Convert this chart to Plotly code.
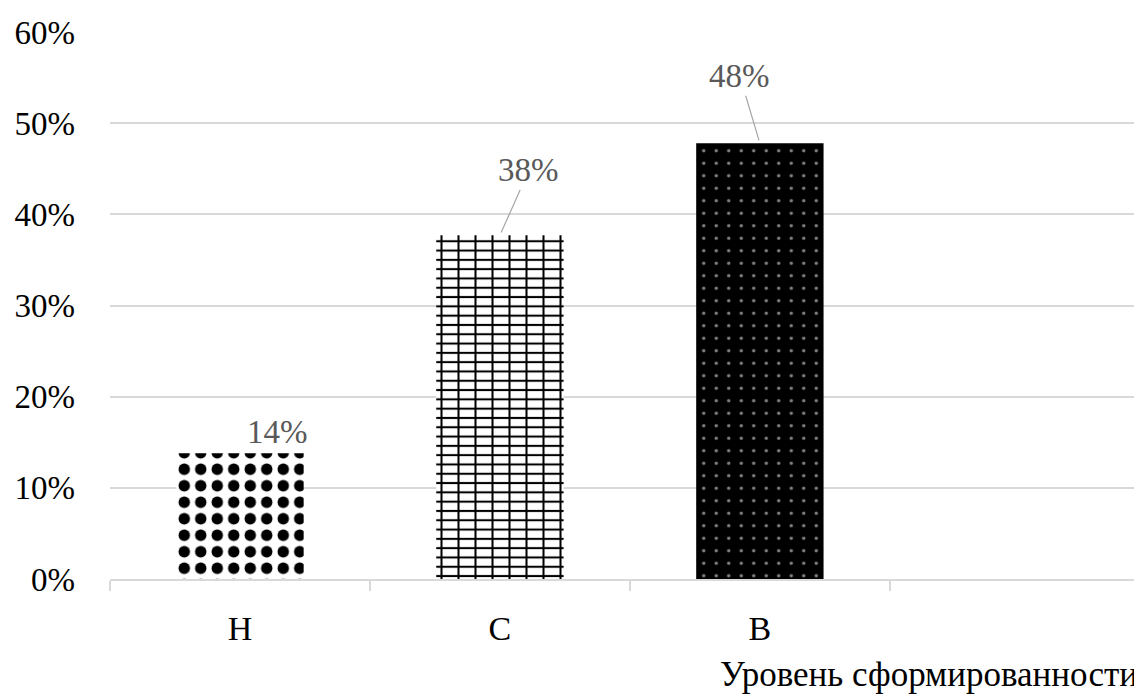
import plotly.graph_objects as go

categories = ["Н", "С", "В"]
values = [0.138, 0.377, 0.478]
y_ticks = [0, 0.1, 0.2, 0.3, 0.4, 0.5, 0.6]
axis_title = "Уровень сформированности"

FONT = "Times New Roman, Liberation Serif, Tinos, DejaVu Serif, serif"
GRID = "#d9d9d9"
BAR_W = 0.49

fig = go.Figure()

# "Н": black diamonds/dots on white
fig.add_trace(go.Bar(
    x=[categories[0]], y=[values[0]], width=BAR_W,
    marker=dict(color="black", line=dict(width=0),
                pattern=dict(shape=".", fgcolor="black", bgcolor="white",
                             size=16.5, solidity=0.38, fillmode="replace")),
    hoverinfo="skip", showlegend=False,
))

# "С": bricks = horizontal lines + vertical joints
fig.add_trace(go.Bar(
    x=[categories[1]], y=[values[1]], width=BAR_W,
    marker=dict(color="black", line=dict(width=0),
                pattern=dict(shape="-", fgcolor="black", bgcolor="white",
                             size=9.3, solidity=0.22, fillmode="replace")),
    hoverinfo="skip", showlegend=False,
))
fig.add_trace(go.Bar(
    x=[categories[1]], y=[values[1]], width=BAR_W,
    marker=dict(color="black", line=dict(width=0),
                pattern=dict(shape="|", fgcolor="black", bgcolor="rgba(0,0,0,0)",
                             size=17, solidity=0.12, fillmode="replace")),
    hoverinfo="skip", showlegend=False,
))

# "В": white dots on black
fig.add_trace(go.Bar(
    x=[categories[2]], y=[values[2]], width=BAR_W,
    marker=dict(color="black", line=dict(width=0),
                pattern=dict(shape=".", fgcolor="white", bgcolor="black",
                             size=12.5, solidity=0.06, fillmode="overlay")),
    hoverinfo="skip", showlegend=False,
))

# data labels
label_offsets = [(38, -21, False), (29, -65, True), (-20, -67, True)]
for cat, val, (dx, dy, arrow) in zip(categories, values, label_offsets):
    txt = f"{round(val * 100):d}%"
    if arrow:
        fig.add_annotation(
            x=cat, y=val, text=txt, showarrow=True, ax=dx, ay=dy,
            arrowhead=0, arrowwidth=1.2, arrowcolor="#a6a6a6", standoff=3,
            font=dict(family=FONT, size=33, color="#595959"),
        )
    else:
        fig.add_annotation(
            x=cat, y=val, text=txt, showarrow=False,
            xshift=dx, yshift=-dy, yanchor="middle",
            font=dict(family=FONT, size=33, color="#595959"),
        )

fig.add_annotation(
    text=axis_title, xref="paper", yref="paper", x=0.998, y=-0.175,
    xanchor="right", yanchor="middle", showarrow=False,
    font=dict(family=FONT, size=35, color="black"),
)

# page body has an 8px margin: shrink the figure so it fits the window
fig.update_layout(
    width=1134, height=690,
    margin=dict(l=102, r=0, t=24, b=119),
    paper_bgcolor="white", plot_bgcolor="white",
    barmode="overlay",
    font=dict(family=FONT, size=33, color="black"),
    xaxis=dict(
        type="category", categoryorder="array", categoryarray=categories,
        range=[-0.5, 3.47], showgrid=False, zeroline=False,
        showline=True, linecolor=GRID, linewidth=1.5,
        ticks="outside", tickson="boundaries", ticklen=10, tickcolor=GRID,
        tickwidth=1.5, tickfont=dict(family=FONT, size=34, color="black"),
        ticklabelstandoff=18,
    ),
    yaxis=dict(
        range=[0, 0.6], tickvals=y_ticks, tickformat=".0%",
        showgrid=True, gridcolor=GRID, gridwidth=1.5, zeroline=False,
        showline=False, ticks="",
        tickfont=dict(family=FONT, size=33, color="black"),
        ticklabelstandoff=34,
    ),
)

fig.write_html("out.html")
